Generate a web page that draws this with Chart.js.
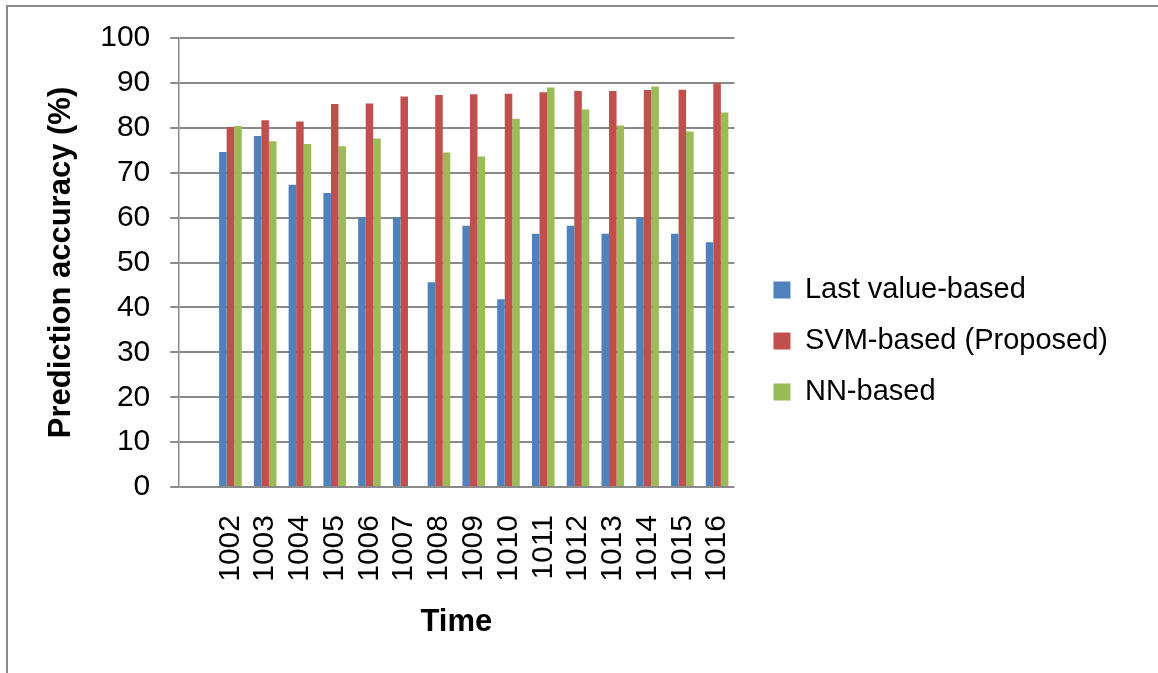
<!DOCTYPE html>
<html>
<head>
<meta charset="utf-8">
<script src="https://cdn.jsdelivr.net/npm/chart.js@4.4.1/dist/chart.umd.min.js"></script>
<style>
    body { margin: 0; background: #fff; }
    #wrap { position: relative; width: 1158px; height: 673px; overflow: hidden; }
    #frame {
        position: absolute; left: 6px; top: 5px; width: 1300px; height: 800px;
        border-left: 2px solid #8a8a8a; border-top: 2px solid #8a8a8a;
    }
    #chart { position: absolute; left: 0; top: 0; }
</style>
</head>
<body>
<div id="wrap">
    <div id="frame"></div>
    <canvas id="chart" width="1158" height="673"></canvas>
</div>
<script>
"use strict";

// first slot is an empty category in the original
const categories = ["", "1002", "1003", "1004", "1005", "1006", "1007", "1008",
                    "1009", "1010", "1011", "1012", "1013", "1014", "1015", "1016"];

const lastValueBased = [null, 74.6, 78.2, 67.3, 65.5, 60.1, 60.1, 45.6,
                        58.2, 41.8, 56.4, 58.2, 56.4, 60.1, 56.4, 54.5];
const svmBased       = [null, 80.2, 81.7, 81.4, 85.3, 85.4, 87.0, 87.3,
                        87.5, 87.6, 87.9, 88.2, 88.2, 88.4, 88.5, 90.0];
const nnBased        = [null, 80.4, 77.0, 76.4, 75.9, 77.6, null, 74.5,
                        73.6, 82.0, 89.0, 84.1, 80.5, 89.2, 79.2, 83.4];

const seriesNames = ["Last value-based", "SVM-based (Proposed)", "NN-based"];
const yTicks      = { min: 0, max: 100, step: 10 };

const fontFamily = "'Liberation Sans', Arial, sans-serif";
const gridColor  = "#8a8a8a";

const ctx = document.getElementById("chart").getContext("2d");

new Chart(ctx, {
    type:    "bar",
    data:    {
        labels:   categories,
        datasets: [
            {
                label:           seriesNames[0],
                data:            lastValueBased,
                backgroundColor: "#4f81bd"
            },
            {
                label:           seriesNames[1],
                data:            svmBased,
                backgroundColor: "#c0504d"
            },
            {
                label:           seriesNames[2],
                data:            nnBased,
                backgroundColor: "#9bbb59"
            }
        ]
    },
    options: {
        responsive:          false,
        animation:           false,
        devicePixelRatio:    1,
        categoryPercentage:  0.65,
        barPercentage:       1.0,
        layout:  {
            padding: { left: 43, top: 37, right: 40, bottom: 28 }
        },
        scales:  {
            x: {
                grid:   { display: false, drawTicks: false },
                border: { display: false },
                ticks:  {
                    autoSkip:    false,
                    minRotation: 90,
                    maxRotation: 90,
                    padding:     28,
                    color:       "#000",
                    font:        { family: fontFamily, size: 30 }
                },
                title:  {
                    display: true,
                    text:    "Time",
                    color:   "#000",
                    padding: { top: -6, bottom: 4 },
                    font:    { family: fontFamily, size: 31, weight: "bold" }
                }
            },
            y: {
                min:    yTicks.min,
                max:    yTicks.max,
                grid:   { color: gridColor, lineWidth: 2, tickLength: 8 },
                border: { display: true, color: gridColor, width: 1.5 },
                ticks:  {
                    stepSize: yTicks.step,
                    padding:  20,
                    color:    "#000",
                    font:     { family: fontFamily, size: 30 }
                },
                title:  {
                    display: true,
                    text:    "Prediction accuracy (%)",
                    color:   "#000",
                    padding: { top: 0, bottom: 0 },
                    font:    { family: fontFamily, size: 31, weight: "bold" }
                }
            },
            // empty spacer between plot and legend
            yPad: {
                position: "right",
                grid:     { display: false, drawTicks: false },
                border:   { display: false },
                ticks:    { display: false },
                afterFit: function (scale)
                          {
                              scale.width = 17;
                          }
            }
        },
        plugins: {
            legend:  {
                display:  true,
                position: "right",
                maxWidth: 420,
                labels:   {
                    boxWidth:  17,
                    boxHeight: 17,
                    padding:   22,
                    color:     "#000",
                    font:      { family: fontFamily, size: 29 }
                }
            },
            tooltip: { enabled: false }
        }
    }
});
</script>
</body>
</html>
